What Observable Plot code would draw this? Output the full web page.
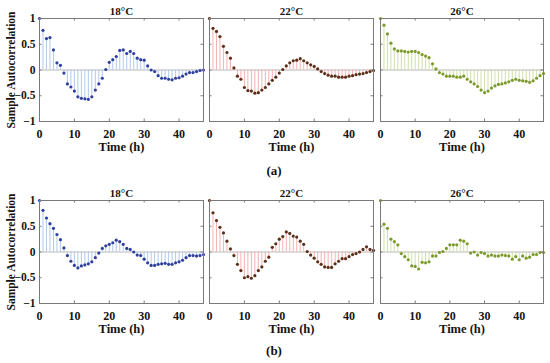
<!DOCTYPE html>
<html><head><meta charset="utf-8">
<script src="https://cdn.jsdelivr.net/npm/d3@7"></script>
<script src="https://cdn.jsdelivr.net/npm/@observablehq/plot@0.6"></script>
<style>
html,body{margin:0;padding:0;background:#fff;}
#chart{position:relative;width:550px;height:363px;overflow:hidden;}
.pan{position:absolute;}
.sub{position:absolute;width:40px;text-align:center;font:bold 13px 'Liberation Serif','Times New Roman',serif;line-height:13px;color:#111;}
</style></head><body><div id="chart"></div>
<script>
// lag (hours)
const lags = [0,1,2,3,4,5,6,7,8,9,10,11,12,13,14,15,16,17,18,19,20,21,22,23,24,25,26,27,28,29,30,31,32,33,34,35,36,37,38,39,40,41,42,43,44,45,46,47];
const xTicks = [0,10,20,30,40];
const yTicks = [-1,-0.5,0,0.5,1];
const temps = ["18°C","22°C","26°C"];
const rowLabels = ["(a)","(b)"];

// (a)
const acf18a = [1.00,0.77,0.61,0.63,0.39,0.14,0.09,-0.06,-0.27,-0.33,-0.41,-0.52,-0.55,-0.56,-0.57,-0.52,-0.39,-0.27,-0.16,0.01,0.15,0.20,0.26,0.38,0.39,0.32,0.36,0.32,0.23,0.20,0.19,0.08,0.00,-0.03,-0.11,-0.16,-0.16,-0.18,-0.19,-0.16,-0.15,-0.12,-0.08,-0.05,-0.05,-0.03,-0.01,0.00];
const acf22a = [1.00,0.81,0.75,0.65,0.46,0.34,0.23,0.04,-0.12,-0.18,-0.34,-0.40,-0.41,-0.45,-0.44,-0.39,-0.34,-0.27,-0.20,-0.14,-0.06,0.01,0.08,0.14,0.18,0.19,0.22,0.18,0.14,0.10,0.07,0.02,-0.03,-0.07,-0.10,-0.12,-0.12,-0.14,-0.14,-0.14,-0.12,-0.11,-0.09,-0.08,-0.07,-0.05,-0.03,-0.01];
const acf26a = [1.00,0.87,0.70,0.52,0.41,0.37,0.37,0.36,0.35,0.36,0.36,0.34,0.30,0.27,0.24,0.12,0.02,-0.05,-0.08,-0.12,-0.12,-0.12,-0.14,-0.14,-0.12,-0.18,-0.23,-0.27,-0.32,-0.39,-0.44,-0.41,-0.35,-0.31,-0.28,-0.27,-0.25,-0.23,-0.20,-0.18,-0.20,-0.21,-0.22,-0.24,-0.21,-0.16,-0.11,-0.07];
// (b)
const acf18b = [1.00,0.81,0.66,0.55,0.46,0.34,0.24,0.08,-0.07,-0.18,-0.26,-0.31,-0.27,-0.25,-0.23,-0.19,-0.11,-0.02,0.07,0.12,0.15,0.18,0.23,0.20,0.15,0.07,0.05,0.00,-0.06,-0.07,-0.14,-0.21,-0.26,-0.26,-0.24,-0.23,-0.22,-0.24,-0.24,-0.21,-0.19,-0.16,-0.11,-0.07,-0.07,-0.08,-0.07,-0.05];
const acf22b = [1.00,0.76,0.61,0.48,0.37,0.21,0.06,-0.07,-0.24,-0.36,-0.50,-0.48,-0.51,-0.46,-0.36,-0.29,-0.18,-0.10,0.09,0.16,0.25,0.30,0.39,0.36,0.31,0.29,0.21,0.15,0.01,-0.06,-0.12,-0.19,-0.24,-0.29,-0.30,-0.30,-0.23,-0.18,-0.13,-0.13,-0.09,-0.05,-0.03,0.00,0.05,0.10,0.05,0.03];
const acf26b = [1.00,0.54,0.46,0.25,0.20,0.14,-0.03,-0.09,-0.15,-0.27,-0.28,-0.33,-0.20,-0.21,-0.19,-0.08,-0.08,-0.01,0.01,0.07,0.14,0.14,0.14,0.23,0.21,0.16,-0.02,0.00,-0.06,-0.01,-0.03,-0.08,-0.06,-0.08,-0.08,-0.06,-0.07,-0.08,-0.14,-0.09,-0.15,-0.08,-0.12,-0.10,-0.05,-0.05,-0.01,-0.01];

const dotColors = ["#2f3f9e","#5e2f18","#7d9a2c"];
const stemColors = ["#a9c3e6","#f3a9a9","#c8dca2"];

const serif = "'Liberation Serif','Times New Roman',serif";
const grey = "#7a7a7a";
const ink = "#141414";
const fmt = d => d < 0 ? "\u2212" + Math.abs(d) : String(d);

const colX = [39, 209, 380];
const colW = [164, 164, 163];
const rowY = [18, 200];
const fh = 103;

const chart = document.getElementById("chart");

function panel(values, col, row) {
  const first = col === 0;
  const fw = colW[col];
  const mL = first ? 42 : 4, mR = 4, mT = 22, mB = 36;
  const data = lags.map((l, i) => ({lag: l, v: values[i]}));
  const marks = [
    Plot.ruleY([0], {stroke: "#b8b8b8", strokeWidth: 1}),
    Plot.ruleX(data, {x: "lag", y1: 0, y2: "v", stroke: stemColors[col], strokeWidth: 0.9}),
    Plot.dot(data, {x: "lag", y: "v", r: 1.6, fill: dotColors[col], stroke: "none"}),
    Plot.frame({stroke: grey}),
    Plot.tickX(xTicks, {x: d => d, insetTop: fh - 2.5, stroke: grey}),
    Plot.tickX(xTicks, {x: d => d, insetBottom: fh - 2.5, stroke: grey}),
    Plot.tickY(yTicks, {y: d => d, insetLeft: fw - 2.5, stroke: grey}),
    Plot.tickY(yTicks, {y: d => d, insetRight: fw - 2.5, stroke: grey}),
    Plot.axisX({ticks: xTicks, tickSize: 0, tickPadding: 8, fontSize: 12, fontWeight: "bold", fill: ink, label: null, tickFormat: fmt}),
    Plot.text([temps[col]], {frameAnchor: "top", dy: -7, lineAnchor: "middle", fontSize: 11, fontWeight: "bold", fill: ink}),
    Plot.text(["Time (h)"], {frameAnchor: "bottom", dy: 25.5, lineAnchor: "middle", fontSize: 12.5, fontWeight: "bold", fill: ink})
  ];
  if (first) {
    marks.push(Plot.axisY({ticks: yTicks, tickSize: 0, tickPadding: 4, fontSize: 11.5, fontWeight: "bold", fill: ink, label: null, tickFormat: fmt}));
    marks.push(Plot.text(["Sample Autocorrelation"], {frameAnchor: "left", dx: -28, rotate: -90, textAnchor: "middle", lineAnchor: "middle", fontSize: 11.5, fontWeight: "bold", fill: ink}));
  }
  const svg = Plot.plot({
    width: mL + fw + mR, height: mT + fh + mB,
    marginLeft: mL, marginRight: mR, marginTop: mT, marginBottom: mB,
    x: {domain: [0, 47]},
    y: {domain: [-1, 1], axis: first ? undefined : null},
    style: {background: "transparent", overflow: "visible", fontFamily: serif},
    marks
  });
  const wrap = document.createElement("div");
  wrap.className = "pan";
  wrap.style.left = (colX[col] - mL) + "px";
  wrap.style.top = (rowY[row] - mT) + "px";
  wrap.appendChild(svg);
  chart.appendChild(wrap);
}

[[acf18a, acf22a, acf26a], [acf18b, acf22b, acf26b]].forEach((rowData, r) => {
  rowData.forEach((vals, c) => panel(vals, c, r));
});

const subTop = [164, 344];
rowLabels.forEach((t, r) => {
  const d = document.createElement("div");
  d.className = "sub";
  d.style.left = "254px";
  d.style.top = subTop[r] + "px";
  d.textContent = t;
  chart.appendChild(d);
});
</script></body></html>
